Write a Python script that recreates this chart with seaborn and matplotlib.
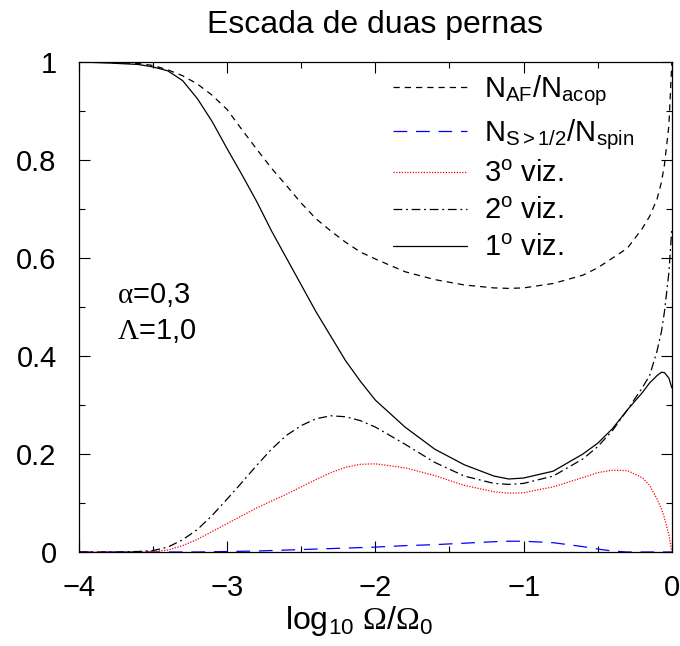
import matplotlib
matplotlib.use("Agg")
import matplotlib.pyplot as plt
import seaborn as sns
import pandas as pd
from matplotlib.ticker import MultipleLocator, FuncFormatter

# ---- data ----
x = [-4.0, -3.8, -3.6, -3.5, -3.4, -3.3, -3.2, -3.1, -3.0, -2.9, -2.8, -2.7,
     -2.6, -2.5, -2.4, -2.3, -2.2, -2.1, -2.0, -1.8, -1.6, -1.4, -1.2, -1.1,
     -1.0, -0.8, -0.6, -0.5, -0.4, -0.3, -0.2, -0.15, -0.1, -0.07, -0.05, -0.02, 0.0]

n_af = [1.0, 0.999, 0.997, 0.993, 0.984, 0.972, 0.955, 0.932, 0.903, 0.862, 0.822, 0.783,
        0.748, 0.712, 0.680, 0.655, 0.632, 0.612, 0.598, 0.572, 0.556, 0.545, 0.539, 0.538,
        0.539, 0.548, 0.565, 0.580, 0.600, 0.620, 0.660, 0.685, 0.720, 0.755, 0.790, 0.870, 1.0]

n_spin = [0.0, 0.0, 0.0, 0.0, 0.0, 0.0, 0.0, 0.0005, 0.001, 0.0015, 0.002, 0.003,
          0.004, 0.005, 0.006, 0.007, 0.008, 0.009, 0.010, 0.013, 0.015, 0.018, 0.021, 0.022,
          0.022, 0.019, 0.011, 0.006, 0.002, 0.0, 0.0, 0.0, 0.0, 0.0, 0.0, 0.0, 0.0]

viz3 = [0.0, 0.0, 0.0, 0.001, 0.004, 0.013, 0.026, 0.042, 0.058, 0.074, 0.090, 0.104,
        0.118, 0.133, 0.148, 0.162, 0.173, 0.179, 0.180, 0.172, 0.156, 0.136, 0.123, 0.120,
        0.121, 0.133, 0.152, 0.162, 0.167, 0.166, 0.152, 0.136, 0.108, 0.088, 0.070, 0.035, 0.0]

viz2 = [0.0, 0.0, 0.001, 0.003, 0.010, 0.025, 0.046, 0.075, 0.108, 0.142, 0.177, 0.210,
        0.238, 0.258, 0.272, 0.278, 0.276, 0.268, 0.255, 0.220, 0.183, 0.155, 0.140, 0.138,
        0.140, 0.155, 0.190, 0.215, 0.248, 0.290, 0.335, 0.360, 0.410, 0.450, 0.490, 0.570, 0.660]

viz1 = [1.0, 0.998, 0.995, 0.990, 0.982, 0.962, 0.925, 0.878, 0.823, 0.770, 0.715, 0.655,
        0.600, 0.545, 0.490, 0.440, 0.390, 0.348, 0.310, 0.255, 0.210, 0.178, 0.155, 0.149,
        0.151, 0.165, 0.200, 0.222, 0.252, 0.290, 0.325, 0.345, 0.360, 0.367, 0.366, 0.355, 0.335]

labels = [r"N$_{\mathrm{AF}}$/N$_{\mathrm{acop}}$",
          r"N$_{\mathrm{S>1/2}}$/N$_{\mathrm{spin}}$",
          r"3$^{\mathrm{o}}$ viz.",
          r"2$^{\mathrm{o}}$ viz.",
          r"1$^{\mathrm{o}}$ viz."]
x_ticks = [-4, -3, -2, -1, 0]
y_ticks = [0, 0.2, 0.4, 0.6, 0.8, 1.0]

# ---- style ----
sns.set_theme(style="ticks")
plt.rcParams["font.family"] = ["Liberation Sans", "DejaVu Sans"]
plt.rcParams["mathtext.fontset"] = "custom"
plt.rcParams["mathtext.rm"] = "Liberation Sans"
plt.rcParams["mathtext.it"] = "Liberation Sans:italic"
plt.rcParams["mathtext.sf"] = "Liberation Serif"
plt.rcParams["axes.unicode_minus"] = True
for k in ["text.color", "axes.labelcolor", "xtick.color", "ytick.color",
          "xtick.labelcolor", "ytick.labelcolor", "axes.edgecolor"]:
    plt.rcParams[k] = "black"

FS = 21
FS_BIG = 23
fig = plt.figure(figsize=(6.8, 6.46), dpi=100)
ax = fig.add_axes([0.116, 0.1455, 0.872, 0.7585])

series = [
    (n_af, "black", (0, (5, 4)), labels[0]),
    (n_spin, "#0000ff", (0, (11, 7)), labels[1]),
    (viz3, "#ff0000", (0, (1, 1.2)), labels[2]),
    (viz2, "black", (0, (7, 3, 1.5, 3)), labels[3]),
    (viz1, "black", "-", labels[4]),
]
for ys, col, ls, lab in series:
    df = pd.DataFrame({"x": x, "y": ys})
    sns.lineplot(data=df, x="x", y="y", ax=ax, color=col, linestyle=ls,
                 linewidth=0.9, label=lab)

ax.set_xlim(-4, 0)
ax.set_ylim(0, 1)
ax.set_xticks(x_ticks)
ax.set_yticks(y_ticks)
ax.xaxis.set_minor_locator(MultipleLocator(0.5))
ax.yaxis.set_minor_locator(MultipleLocator(0.1))
ax.xaxis.set_major_formatter(FuncFormatter(lambda v, p: f"{v:g}".replace("-", "\u2212")))
ax.yaxis.set_major_formatter(FuncFormatter(lambda v, p: f"{v:g}"))
ax.tick_params(which="both", direction="in", top=True, right=True, labelsize=FS,
               width=0.8, color="black")
ax.tick_params(which="major", length=8, pad=16)
ax.tick_params(which="minor", length=4)
for s in ax.spines.values():
    s.set_linewidth(0.9)
    s.set_color("black")

ax.set_xlabel(r"log$_{10}$ $\mathsf{\Omega}$/$\mathsf{\Omega}_0$", fontsize=FS_BIG, labelpad=1)
ax.xaxis.label.set_x(0.472)
ax.set_ylabel("")
ax.set_title("Escada de duas pernas", fontsize=FS_BIG, pad=21)

ax.text(-3.74, 0.524, r"$\mathsf{\alpha}$=0,3", fontsize=FS, va="center", ha="left")
ax.text(-3.74, 0.451, r"$\mathsf{\Lambda}$=1,0", fontsize=FS, va="center", ha="left")

leg = ax.legend(loc="upper left", bbox_to_anchor=(0.5295, 0.976), frameon=False,
                fontsize=FS, handlelength=2.53, handletextpad=0.6,
                labelspacing=0.3, borderaxespad=0.0, borderpad=0.0)

fig.savefig("out.png", dpi=100)
